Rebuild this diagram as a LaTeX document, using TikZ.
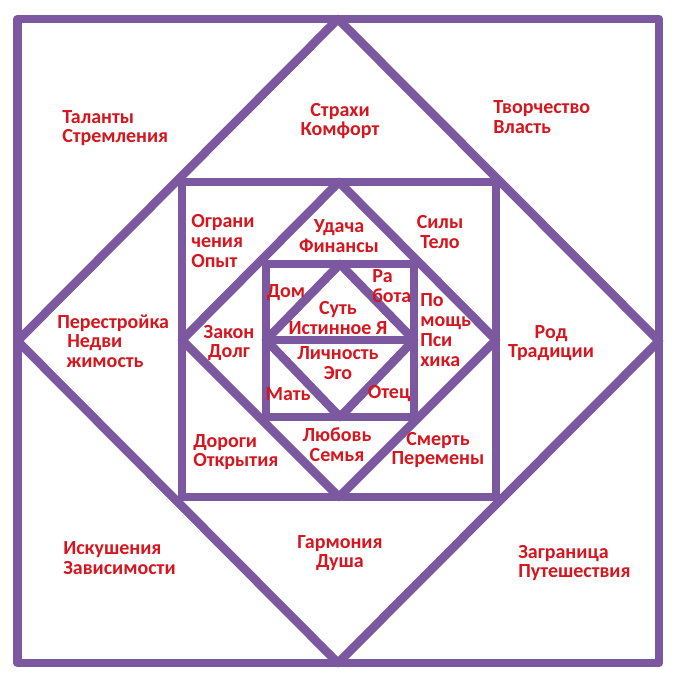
\documentclass[tikz,border=0pt]{standalone}
\usepackage{fontspec}
\setmainfont{Carlito}
\definecolor{frame}{RGB}{124,88,160}
\definecolor{word}{RGB}{214,22,30}
\tikzset{
  wall/.style={draw=frame, line width=6.5pt, line join=round},
  sign/.style={text=word, font=\bfseries\fontsize{15}{14.8}\selectfont, inner sep=0pt, align=center},
  signl/.style={sign, align=left, anchor=west},
}
\begin{document}
\begin{tikzpicture}[x=0.75pt,y=-0.75pt]
    \useasboundingbox (0,0) rectangle (678,684);
    \fill[white] (0,0) rectangle (678,684); %Background
    \draw[wall] (17.5,19) rectangle (659,663);
    \draw[wall] (338,19) -- (659,341) -- (338,663) -- (17.5,341) -- cycle;
    %
    \draw[wall] (182,182) rectangle (496,497);
    \draw[wall] (339,182) -- (496,340) -- (339,497) -- (182,340) -- cycle;
    %
    \draw[wall] (266,264) rectangle (414,417);
    \draw[wall] (340,264) -- (414,340) -- (340,417) -- (266,340) -- cycle;
    \draw[wall] (266,340) -- (414,340);
    % outer ring
    \node[signl] (talant) at (62,128) {Таланты\\Стремления};
    \node[sign] (strah) at (340,121) {Страхи\\Комфорт};
    \node[signl] (tvor) at (493,117) {Творчество\\Власть};
    \node[signl] (perestr) at (57,341) {Перестройка\\\hspace*{7.5pt}Недви\\\hspace*{7pt}жимость};
    \node[sign] (rod) at (551,343) {Род\\Традиции};
    \node[signl] (isk) at (63,558) {Искушения\\Зависимости};
    \node[sign] (garm) at (340,553) {Гармония\\Душа};
    \node[signl] (zagr) at (518,563) {Заграница\\Путешествия};
    % middle ring
    \node[signl] (ogr) at (191,241) {Ограни\\чения\\Опыт};
    \node[sign] (udacha) at (339,236) {Удача\\Финансы};
    \node[sign] (sily) at (440,232) {Силы\\Тело};
    \node[sign] (zakon) at (229,343) {Закон\\Долг};
    \node[signl] (pomosh) at (420,330) {По\\мощь\\Пси\\хика};
    \node[signl] (dorogi) at (193,452) {Дороги\\Открытия};
    \node[sign] (lubov) at (337,445) {Любовь\\Семья};
    \node[sign] (smert) at (438,450) {Смерть\\Перемены};
    % inner square
    \node[sign] (dom) at (286,293) {Дом};
    \node[signl] (rabota) at (372,286) {Ра\\бота};
    \node[sign] (sut) at (338,318) {Суть\\Истинное Я};
    \node[sign] (lichn) at (338,363) {Личность\\Эго};
    \node[sign] (mat) at (288,394) {Мать};
    \node[sign] (otec) at (389,394) {Отец};
\end{tikzpicture}
\end{document}
